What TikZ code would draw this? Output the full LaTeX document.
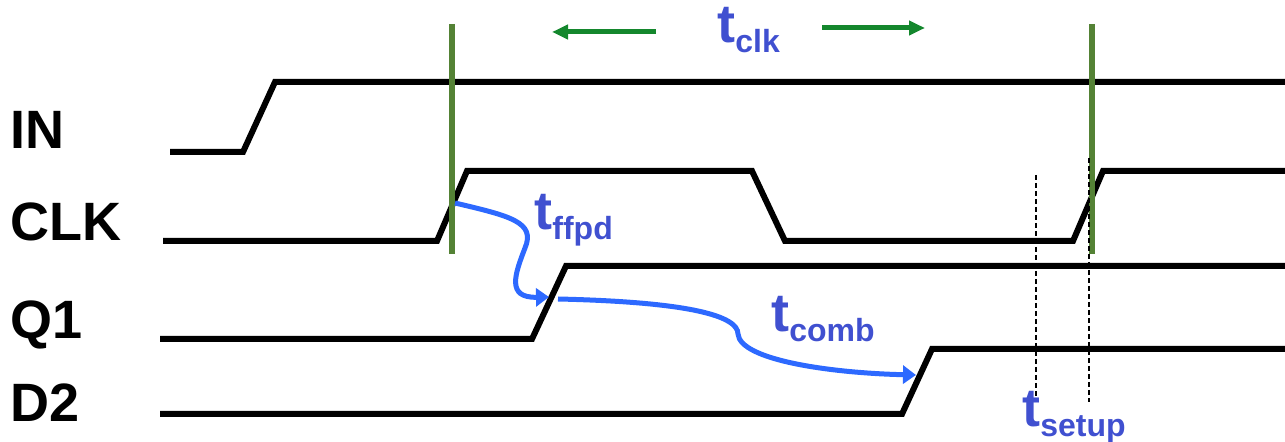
\documentclass[tikz,border=0pt]{standalone}
\usepackage{fontspec}
\setmainfont{Liberation Sans}
\usetikzlibrary{arrows.meta}

\definecolor{edgegreen}{RGB}{84,130,53}
\definecolor{spangreen}{RGB}{20,135,45}
\definecolor{labelblue}{RGB}{64,80,208}
\definecolor{pathblue}{RGB}{45,105,255}

% big t with a lowered subscript
\newcommand{\tdelay}[1]{{\fontsize{27}{27}\selectfont t}\raisebox{-5pt}{\fontsize{16}{16}\selectfont #1}}

\begin{document}
\begin{tikzpicture}
  [x=0.5pt,y=-0.5pt,
   every node/.style={inner sep=0pt,anchor=base west,font=\bfseries},
   signame/.style={font=\bfseries\fontsize{27}{27}\selectfont},
   delaylab/.style={text=labelblue},
   wave/.style={line width=3pt,line join=miter},
   clkedge/.style={line width=3pt,edgegreen},
   span/.style={line width=2.5pt,spangreen,-{Triangle[length=8pt,width=7pt]}},
   delay/.style={line width=2.5pt,pathblue,-{Triangle[length=6.5pt,width=9pt]}},
   limit/.style={line width=1.3pt,dash pattern=on 2.5pt off 1.5pt}]
  \useasboundingbox (0,0) rectangle (1285,442);

  \node[signame] (in)  at (10,149) {IN};
  \node[signame] (clk) at (10,241) {CLK};
  \node[signame] (q1)  at (10,339) {Q1};
  \node[signame] (d2)  at (10,422) {D2};

  % waveforms
  \draw[wave] (170,152) -- (243,152) -- (275,82) -- (1285,82);
  \draw[wave] (163,241) -- (437,241) -- (467,171) -- (752,171) -- (785,241)
    -- (1073,241) -- (1103,171) -- (1285,171);
  \draw[wave] (160,339) -- (532,339) -- (566,266) -- (1285,266);
  \draw[wave] (160,414) -- (902,414) -- (932,349) -- (1285,349);

  % clock edges
  \foreach \x in {452,1092}
    \draw[clkedge] (\x,24) -- (\x,254);

  \node[delaylab] (tclk)   at (717,43)   {\tdelay{clk}};
  \node[delaylab] (tffpd)  at (534,230)  {\tdelay{ffpd}};
  \node[delaylab] (tcomb)  at (771,332)  {\tdelay{comb}};
  \node[delaylab] (tsetup) at (1022,427) {\tdelay{setup}};

  \coordinate (sl0) at (656,32);  \coordinate (sl1) at (552,32);
  \coordinate (sr0) at (822,28);  \coordinate (sr1) at (925,28);
  \draw[span] (sl0) -- (sl1);
  \draw[span] (sr0) -- (sr1);

  \coordinate (ff0) at (455,203); \coordinate (ff1) at (549,297);
  \coordinate (cb0) at (558,299); \coordinate (cb1) at (916,375);
  \draw[delay] (ff0) .. controls (510,216) and (536,222) .. (525,248)
    .. controls (515,274) and (506,298) .. (ff1);
  \draw[delay] (cb0) .. controls (690,302) and (738,316) .. (738,334)
    .. controls (740,360) and (830,373) .. (cb1);

  % setup window
  \draw[limit] (1036,175) -- (1036,398);
  \draw[limit] (1089,158) -- (1089,402);
\end{tikzpicture}
\end{document}
